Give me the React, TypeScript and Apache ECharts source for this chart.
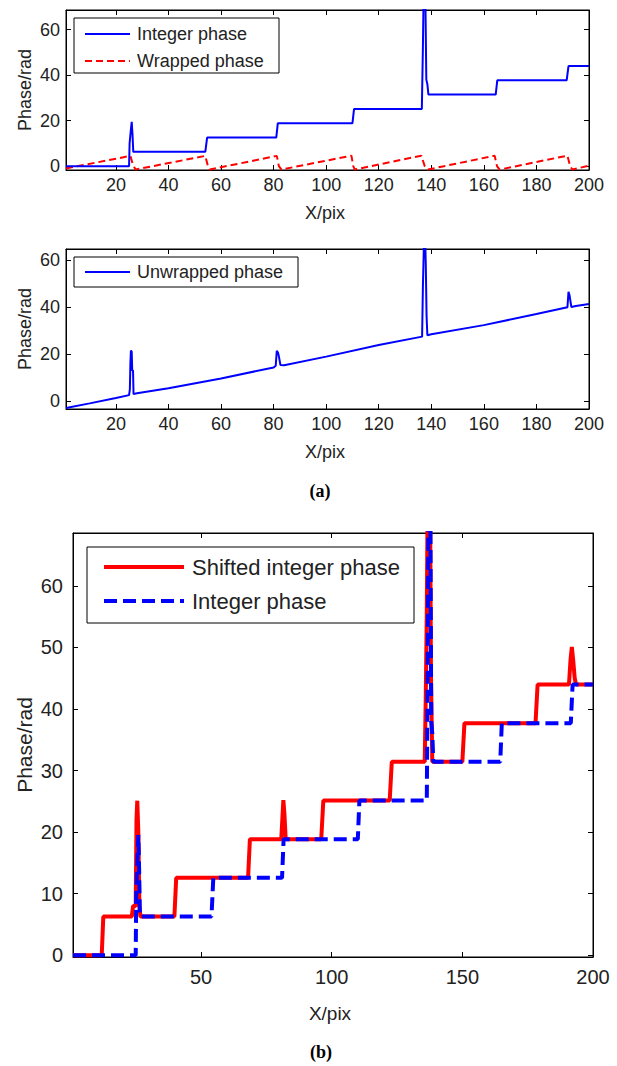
import React, { useEffect, useRef } from "react";
import * as echarts from "echarts";

// ---------- data ----------
const X_TICKS_A = [20, 40, 60, 80, 100, 120, 140, 160, 180, 200];
const Y_TICKS_A = [0, 20, 40, 60];
const X_TICKS_B = [50, 100, 150, 200];
const Y_TICKS_B = [0, 10, 20, 30, 40, 50, 60];

const LEGEND_A1 = ["Integer phase", "Wrapped phase"];
const LEGEND_A2 = ["Unwrapped phase"];
const LEGEND_B = ["Shifted integer phase", "Integer phase"];

// integer phase (used in (a) top and (b))
const integerPhase: [number, number][] = [
  [1, 0], [25, 0], [25.2, 10], [25.6, 15], [26, 19.5], [26.3, 14], [26.6, 6.28],
  [54, 6.28], [54.7, 12.57], [81, 12.57], [81.6, 18.85], [110, 18.85], [110.6, 25.13],
  [136.4, 25.13], [136.8, 52], [137.1, 78], [137.7, 78], [138.1, 38], [138.5, 36], [138.9, 31.42],
  [164.5, 31.42], [165.1, 37.7], [191.5, 37.7], [192.2, 43.98], [200, 43.98],
];

const wrappedPhase: [number, number][] = [
  [1, -1], [25.5, 4.5], [26.5, 0.5], [27.5, -1.5], [54, 4.5], [55, 0], [55.7, -1.5],
  [81.2, 4.5], [82, 0], [83, -1.5], [109.6, 4.6], [110.3, 0], [110.9, -1.5],
  [136.2, 4.6], [137.5, 0], [138.7, -1.5], [164.1, 4.6], [165, 0], [166, -1.5],
  [191.8, 4.6], [192.8, 0], [193.7, -1.5], [200, 0.2],
];

const unwrappedPhase: [number, number][] = [
  [1, -3], [10, -1], [20, 1.3], [25, 2.5], [25.3, 5], [25.5, 16], [25.7, 21.5], [26, 21],
  [26.2, 13], [26.5, 13], [26.7, 3], [28, 3.3], [40, 5.4], [60, 9.6], [80, 14.3], [80.8, 15],
  [81.2, 21.4], [81.7, 20.5], [82, 19], [82.6, 15.3], [84, 15.2], [100, 18.9], [120, 23.8],
  [136.5, 27.4], [136.8, 48.6], [137.3, 72], [137.6, 72], [137.9, 58], [138.2, 36], [138.5, 28],
  [140, 28.4], [160, 32.3], [180, 37], [191.8, 39.9], [192.2, 46.5], [192.6, 45], [193, 42],
  [193.3, 40], [195, 40.4], [200, 41.3],
];

const shiftedIntegerPhase: [number, number][] = [
  [1, 0], [12, 0], [12.6, 6.28], [23.5, 6.28], [24, 8], [25, 8], [25.3, 22], [25.6, 25.1],
  [26, 20], [26.4, 8], [26.8, 6.28], [39.8, 6.28], [40.5, 12.57], [68, 12.57], [68.7, 18.85],
  [80.7, 18.85], [81.1, 22], [81.5, 25.2], [81.9, 23], [82.4, 18.85], [96, 18.85], [96.8, 25.13],
  [122.2, 25.13], [123, 31.42], [135.6, 31.42], [136, 42], [136.4, 56], [136.8, 78], [137.6, 78],
  [138, 45], [138.5, 31.42], [150, 31.42], [150.8, 37.7], [178, 37.7], [178.8, 43.98],
  [190.8, 43.98], [191.4, 48], [191.9, 50.1], [192.4, 48], [193, 45], [193.5, 43.98], [200, 43.98],
];

// ---------- styling ----------
const FONT = "'Liberation Sans', Arial, Helvetica, sans-serif";
const BLUE = "#0000ff";
const RED = "#ff0000";
const TXT = "#222";

const grids = [
  { left: 66, top: 10, width: 523, height: 160 },
  { left: 66, top: 249, width: 523, height: 160 },
  { left: 73, top: 533, width: 520, height: 424 },
];

function xAxes(gi: number, min: number, max: number, ticks: number[], fs: number, margin: number) {
  return [
    {
      type: "value", gridIndex: gi, position: "bottom", min, max,
      splitLine: { show: false },
      axisLine: { show: true, onZero: false, lineStyle: { color: "#000", width: 1 } },
      axisTick: { show: true, inside: true, length: 5, customValues: ticks, lineStyle: { color: "#000" } },
      axisLabel: { show: true, customValues: ticks, fontSize: fs, fontFamily: FONT, color: TXT, margin },
    },
    {
      type: "value", gridIndex: gi, position: "top", min, max,
      splitLine: { show: false },
      axisLine: { show: true, onZero: false, lineStyle: { color: "#000", width: 1 } },
      axisTick: { show: true, inside: true, length: 5, customValues: ticks, lineStyle: { color: "#000" } },
      axisLabel: { show: false },
    },
  ];
}

function yAxes(gi: number, min: number, max: number, ticks: number[], fs: number, margin: number) {
  return [
    {
      type: "value", gridIndex: gi, position: "left", min, max,
      splitLine: { show: false },
      axisLine: { show: true, onZero: false, lineStyle: { color: "#000", width: 1 } },
      axisTick: { show: true, inside: true, length: 5, customValues: ticks, lineStyle: { color: "#000" } },
      axisLabel: { show: true, customValues: ticks, fontSize: fs, fontFamily: FONT, color: TXT, margin },
    },
    {
      type: "value", gridIndex: gi, position: "right", min, max,
      splitLine: { show: false },
      axisLine: { show: true, onZero: false, lineStyle: { color: "#000", width: 1 } },
      axisTick: { show: true, inside: true, length: 5, customValues: ticks, lineStyle: { color: "#000" } },
      axisLabel: { show: false },
    },
  ];
}

function txt(text: string, x: number, y: number, fs: number, opts: any = {}) {
  return {
    type: "text", x, y, z: 100, rotation: opts.rotation || 0,
    style: {
      text, fontSize: fs, fontFamily: opts.family || FONT, fontWeight: opts.weight || "normal",
      fill: opts.fill || TXT, align: opts.align || "center", verticalAlign: "middle",
    },
  };
}

function legendLine(x1: number, x2: number, y: number, color: string, width: number, dash?: number[]) {
  return {
    type: "line", z: 100,
    shape: { x1, y1: y, x2, y2: y },
    style: { stroke: color, lineWidth: width, lineDash: dash || null, lineCap: "butt" },
  };
}

function legendBox(x: number, y: number, w: number, h: number) {
  return {
    type: "rect", z: 99,
    shape: { x, y, width: w, height: h },
    style: { fill: "#fff", stroke: "#000", lineWidth: 1 },
  };
}

export default function App() {
  const ref = useRef<HTMLDivElement>(null);
  useEffect(() => {
    if (!ref.current) return;
    const chart = echarts.init(ref.current, undefined, { renderer: "svg" });
    const option: any = {
      animation: false,
      backgroundColor: "#fff",
      grid: grids.map((g) => ({ ...g, show: true, borderColor: "#000", borderWidth: 1, backgroundColor: "transparent" })),
      xAxis: [
        ...xAxes(0, 1, 200, X_TICKS_A, 18, 6),
        ...xAxes(1, 1, 200, X_TICKS_A, 18, 6),
        ...xAxes(2, 1, 200, X_TICKS_B, 20, 10),
      ],
      yAxis: [
        ...yAxes(0, -1.7, 68.6, Y_TICKS_A, 18, 6),
        ...yAxes(1, -3.4, 64.7, Y_TICKS_A, 18, 6),
        ...yAxes(2, -0.3, 68.6, Y_TICKS_B, 20, 10),
      ],
      series: [
        {
          name: LEGEND_A1[1], type: "line", xAxisIndex: 0, yAxisIndex: 0, data: wrappedPhase,
          symbol: "none", lineStyle: { color: RED, width: 2, type: [7, 4] }, itemStyle: { color: RED },
        },
        {
          name: LEGEND_A1[0], type: "line", xAxisIndex: 0, yAxisIndex: 0, data: integerPhase,
          symbol: "none", lineStyle: { color: BLUE, width: 2 }, itemStyle: { color: BLUE },
        },
        {
          name: LEGEND_A2[0], type: "line", xAxisIndex: 2, yAxisIndex: 2, data: unwrappedPhase,
          symbol: "none", lineStyle: { color: BLUE, width: 2 }, itemStyle: { color: BLUE },
        },
        {
          name: LEGEND_B[0], type: "line", xAxisIndex: 4, yAxisIndex: 4, data: shiftedIntegerPhase,
          symbol: "none", lineStyle: { color: RED, width: 4 }, itemStyle: { color: RED },
        },
        {
          name: LEGEND_B[1] + " ", type: "line", xAxisIndex: 4, yAxisIndex: 4, data: integerPhase,
          symbol: "none", lineStyle: { color: BLUE, width: 4, type: [13, 6] }, itemStyle: { color: BLUE },
        },
      ],
      graphic: [
        // legend (a) top
        legendBox(74, 18, 205, 55),
        legendLine(85, 130, 34, BLUE, 2),
        txt(LEGEND_A1[0], 137, 34, 18, { align: "left" }),
        legendLine(85, 130, 61, RED, 2, [7, 4]),
        txt(LEGEND_A1[1], 137, 61, 18, { align: "left" }),
        // legend (a) bottom
        legendBox(74, 257, 224, 30),
        legendLine(85, 130, 272, BLUE, 2),
        txt(LEGEND_A2[0], 137, 272, 18, { align: "left" }),
        // legend (b)
        legendBox(87, 547, 327, 76),
        legendLine(104, 184, 567, RED, 4),
        txt(LEGEND_B[0], 192, 567, 22, { align: "left" }),
        legendLine(104, 184, 601, BLUE, 4, [13, 6]),
        txt(LEGEND_B[1], 192, 601, 22, { align: "left" }),
        // axis names
        txt("Phase/rad", 25, 90, 18, { rotation: Math.PI / 2 }),
        txt("X/pix", 325, 213, 18),
        txt("Phase/rad", 25, 329, 18, { rotation: Math.PI / 2 }),
        txt("X/pix", 325, 452, 18),
        txt("Phase/rad", 24, 745, 21, { rotation: Math.PI / 2 }),
        txt("X/pix", 330, 1013, 19),
        // panel captions
        txt("(a)", 320, 491, 18, { family: "'Liberation Serif', 'Times New Roman', serif", weight: "bold", fill: "#000" }),
        txt("(b)", 321, 1052, 18, { family: "'Liberation Serif', 'Times New Roman', serif", weight: "bold", fill: "#000" }),
      ],
    };
    chart.setOption(option);
    return () => chart.dispose();
  }, []);
  return (
    <div
      ref={ref}
      style={{ position: "fixed", left: 0, top: 0, width: 617, height: 1066, background: "#fff" }}
    />
  );
}
